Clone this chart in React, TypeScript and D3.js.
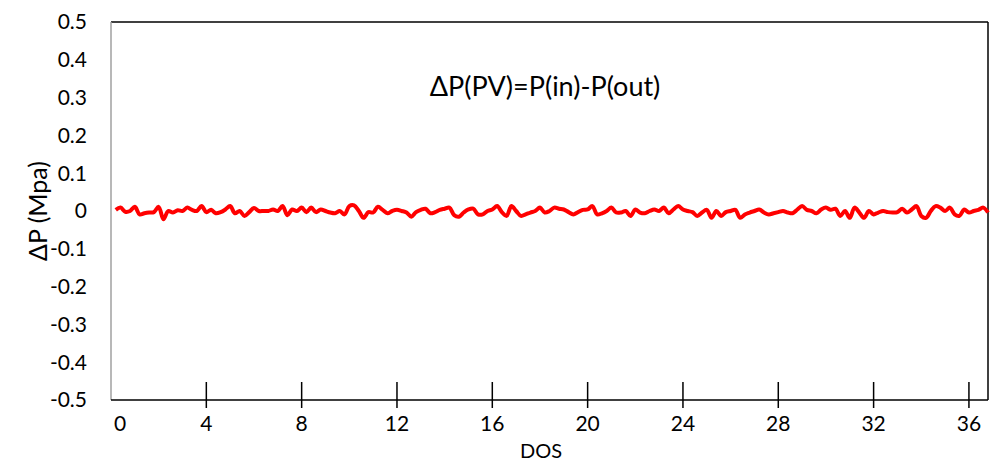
import React, { useRef, useEffect } from "react";
import * as d3 from "d3";

// pressure difference samples (MPa), one every 0.2 days from day 0.2
const startDay = 0.2;
const stepDay = 0.2;
const deltaP = [
  0.003, 0.009, -0.002, 0, 0.011, -0.009, -0.006, -0.004, -0.003, 0.011, -0.022, 0,
  -0.004, 0.002, 0, 0.009, 0.003, 0, 0.013, -0.003, 0.003, -0.006, -0.003, 0.004,
  0.013, -0.006, 0, -0.013, -0.003, 0.008, 0, 0, 0, 0.004, 0, 0.013,
  -0.011, 0.004, 0, 0.009, -0.003, 0.009, -0.003, 0.004, 0, -0.004, -0.006, 0,
  -0.009, 0.013, 0.015, 0, -0.018, -0.003, -0.004, 0.011, 0.003, -0.006, 0, 0.003,
  0, -0.004, -0.015, -0.003, 0.003, 0.006, -0.006, -0.003, 0.003, 0.006, 0.009, -0.011,
  -0.015,
  -0.004, 0.004, 0.006, -0.009, -0.009, 0, 0.004, 0.013, -0.003, -0.013, 0.013, 0,
  -0.013, -0.009, -0.004, 0, 0.009, -0.004, 0, 0.009, 0.006, 0.004, -0.003, -0.009,
  -0.003, 0.003, 0.004, 0.013, -0.009, -0.006, 0, 0.009, -0.004, -0.004, 0, -0.013,
  0.004, -0.004, -0.006, 0, 0.004, 0, 0.009, -0.006, 0.004, 0.013, 0.004, 0,
  -0.003, -0.013, -0.004, 0.003, -0.018, 0, -0.013, -0.003, 0, 0.003, -0.018, -0.009,
  -0.004, 0, 0.004, -0.004, -0.009, -0.006, -0.003, 0, -0.004, -0.006, 0.004, 0.013,
  0.003,
  0, -0.006, 0.004, 0.009, 0.003, 0.006, -0.013, 0, -0.018, 0.009, -0.004, -0.018,
  0, -0.009, -0.004, 0, -0.003, -0.004, -0.003, 0.006, -0.004, 0.004, 0.013, -0.013,
  -0.018, 0, 0.013, 0.009, 0, 0.009, -0.009, -0.013, 0.004, -0.004, 0, 0.003,
  0.009, -0.004,
];

const xTicks = [4, 8, 12, 16, 20, 24, 28, 32, 36];
const xLabels = [0, 4, 8, 12, 16, 20, 24, 28, 32, 36];
const yTicks = [0.5, 0.4, 0.3, 0.2, 0.1, 0, -0.1, -0.2, -0.3, -0.4, -0.5];

const font = "Lato, 'Open Sans', sans-serif";

const App = () => {
  const svgRef = useRef<SVGSVGElement>(null);

  useEffect(() => {
    const width = 990;
    const height = 463;
    const left = 111, right = 988, top = 22, bottom = 400;

    const svg = d3.select(svgRef.current)
      .attr("width", width)
      .attr("height", height);
    svg.selectAll("*").remove();

    const x = d3.scaleLinear().domain([0, 36.8]).range([left, right]);
    const y = d3.scaleLinear().domain([-0.5, 0.5]).range([bottom, top]);

    svg.append("rect").attr("width", width).attr("height", height).attr("fill", "#fff");

    // frame
    svg.append("line").attr("x1", left).attr("x2", right).attr("y1", top).attr("y2", top)
      .attr("stroke", "#000").attr("stroke-width", 1.5);
    svg.append("line").attr("x1", right).attr("x2", right).attr("y1", top).attr("y2", bottom)
      .attr("stroke", "#000").attr("stroke-width", 1.5);
    svg.append("line").attr("x1", left).attr("x2", left).attr("y1", top).attr("y2", bottom)
      .attr("stroke", "#a0a0a0").attr("stroke-width", 1.5);
    svg.append("line").attr("x1", left).attr("x2", right).attr("y1", bottom).attr("y2", bottom)
      .attr("stroke", "#000").attr("stroke-width", 1.5);

    // x ticks
    svg.selectAll(".xt").data(xTicks).enter().append("line")
      .attr("x1", d => x(d)).attr("x2", d => x(d))
      .attr("y1", bottom - 18).attr("y2", bottom + 8)
      .attr("stroke", "#000").attr("stroke-width", 1.5);

    svg.selectAll(".xl").data(xLabels).enter().append("text")
      .attr("x", d => (d === 0 ? x(d) + 9 : x(d)))
      .attr("y", 431)
      .attr("text-anchor", "middle")
      .attr("font-family", font).attr("font-size", 21).attr("fill", "#000")
      .text(d => d);

    svg.selectAll(".yl").data(yTicks).enter().append("text")
      .attr("x", 87)
      .attr("y", d => y(d))
      .attr("dy", "0.35em")
      .attr("text-anchor", "end")
      .attr("font-family", font).attr("font-size", 21).attr("fill", "#000")
      .text(d => (d === 0 ? "0" : d.toFixed(1)));

    const pts = deltaP.map((v, i) => [startDay + i * stepDay, v] as [number, number]);
    const line = d3.line<[number, number]>()
      .x(d => x(d[0]))
      .y(d => y(d[1]))
      .curve(d3.curveCatmullRom);

    svg.append("path").datum(pts)
      .attr("d", line)
      .attr("fill", "none")
      .attr("stroke", "#ff0000")
      .attr("stroke-width", 4)
      .attr("stroke-linejoin", "round");

    svg.append("text")
      .attr("x", 545).attr("y", 96)
      .attr("text-anchor", "middle")
      .attr("font-family", font).attr("font-size", 27).attr("fill", "#000")
      .text("ΔP(PV)=P(in)-P(out)");

    svg.append("text")
      .attr("x", 541).attr("y", 458)
      .attr("text-anchor", "middle")
      .attr("font-family", font).attr("font-size", 20).attr("fill", "#000")
      .text("DOS");

    svg.append("text")
      .attr("transform", `translate(38,${y(0)}) rotate(-90)`)
      .attr("dy", "0.35em")
      .attr("text-anchor", "middle")
      .attr("font-family", font).attr("font-size", 25).attr("fill", "#000")
      .text("ΔP (Mpa)");
  }, []);

  return (
    <svg ref={svgRef} style={{ position: "absolute", left: 0, top: 0, display: "block" }}></svg>
  );
};

export default App;
